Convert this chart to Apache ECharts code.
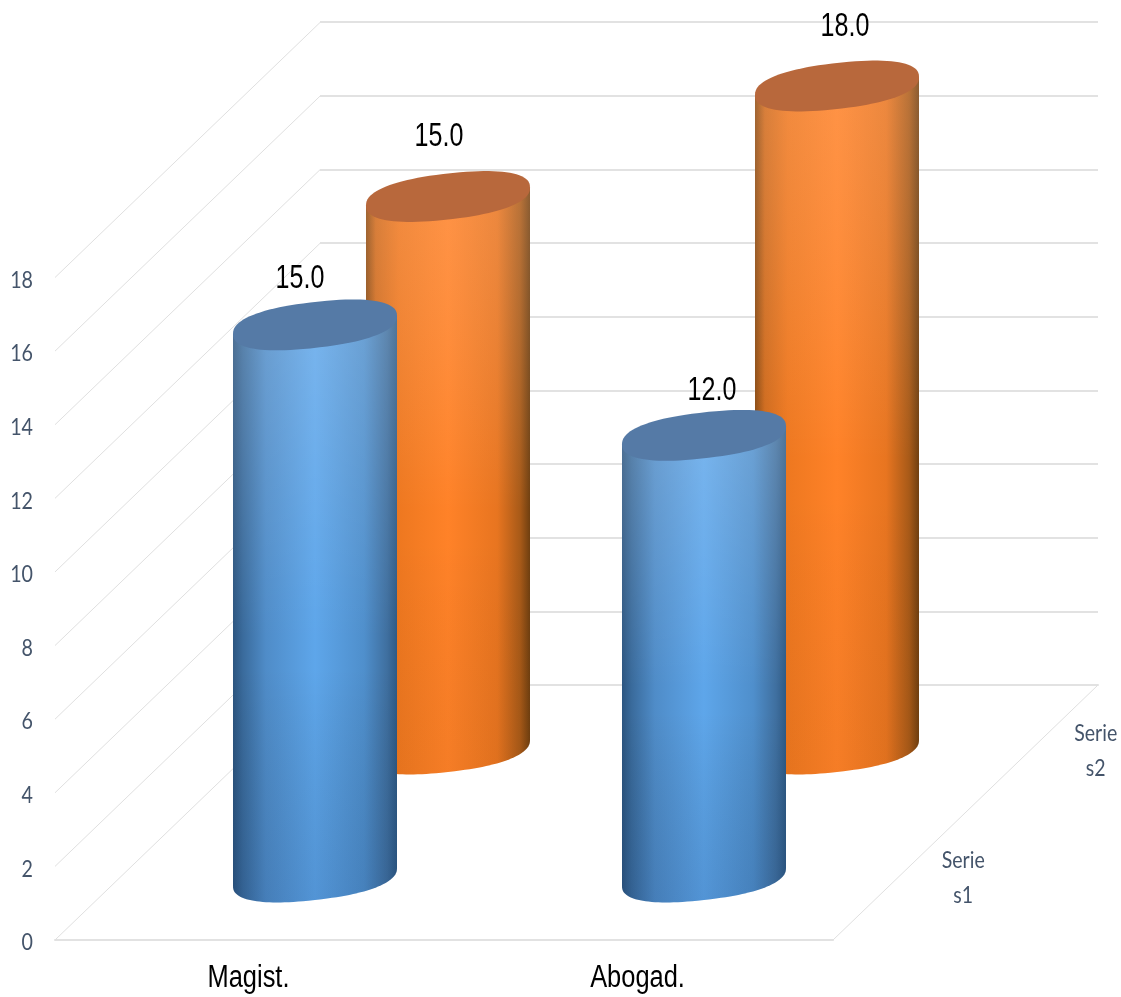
<!DOCTYPE html>
<html>
<head>
<meta charset="utf-8">
<script src="https://cdn.jsdelivr.net/npm/echarts@6/dist/echarts.min.js"></script>
<style>html,body{margin:0;padding:0;background:#fff}#c{width:1121px;height:997px}</style>
</head>
<body>
<div id="c"></div>
<script>
const categories = ['Magist.', 'Abogad.'];
const serieS1 = [15, 12];
const serieS2 = [15, 18];
const valueTicks = [0, 2, 4, 6, 8, 10, 12, 14, 16, 18];
const depthLabels = ['Serie\ns1', 'Serie\ns2'];

/* layout */
const WALL_DX = 265, WALL_DY = 255;
const SANS = '"Liberation Sans",Arial,sans-serif';
const SOFT = 'Lato,"Noto Sans",sans-serif';
const INK = '#44546a';
const stopAt = [0, 0.06, 0.2, 0.5, 0.8, 0.94, 1];
const blueStyle = {
  cap: '#557aa6',
  stops: ['#2c5580', '#3a6b9c', '#4f8cc8', '#5ea6ea', '#4f8fcc', '#3f6f9f', '#2e5a85'],
  lightTop: 'rgba(255,255,255,0.17)', darkBottom: 'rgba(10,40,90,0.14)'
};
const orangeStyle = {
  cap: '#b8683c',
  stops: ['#8a4a12', '#cf6a1c', '#ee7820', '#ff8228', '#e87520', '#a85a18', '#6f3f10'],
  lightTop: 'rgba(255,215,190,0.2)', darkBottom: 'rgba(90,40,0,0.06)'
};

function soft(v) { return Math.sign(v) * Math.pow(Math.abs(v), 0.85); }
function ellipsePoint(cx, cy, rx, t) {
  const c = soft(Math.cos(t)), s = soft(Math.sin(t));
  return [cx + rx * c, cy - rx * 0.11 * c - rx * 0.28 * s];
}
function squeezed(text, x, y, scaleX, style) {
  return { type: 'text', x, y, scaleX, style: Object.assign({
    text, x: 0, y: 0, verticalAlign: 'middle' }, style) };
}

function cylinder(look, dx, dy, labelShift, labelRise) {
  return function (params, api) {
    const i = api.value(0), v = api.value(1);
    const rx = api.size([1, 0])[0] * 0.2108;
    const base = api.coord([i, 0]), top = api.coord([i, v]);
    const cx = base[0] + dx, by = base[1] + dy, ty = top[1] + dy;
    const body = [ellipsePoint(cx, ty, rx, Math.PI), ellipsePoint(cx, ty, rx, 0)];
    for (let k = 0; k <= 60; k++) body.push(ellipsePoint(cx, by, rx, -Math.PI * k / 60));
    const cap = [];
    for (let k = 0; k < 90; k++) cap.push(ellipsePoint(cx, ty, rx, 2 * Math.PI * k / 90));
    return {
      type: 'group',
      children: [
        { type: 'polygon', shape: { points: body }, style: {
            fill: { type: 'linear', x: 0, y: 0, x2: 1, y2: 0,
              colorStops: look.stops.map((c, n) => ({ offset: stopAt[n], color: c })) } } },
        { type: 'polygon', shape: { points: body }, style: {
            fill: { type: 'linear', x: 0, y: 0, x2: 0, y2: 1, colorStops: [
              { offset: 0, color: look.lightTop },
              { offset: 0.55, color: 'rgba(255,255,255,0)' },
              { offset: 0.6, color: 'rgba(0,0,0,0)' },
              { offset: 1, color: look.darkBottom }] } } },
        { type: 'polygon', shape: { points: cap }, style: { fill: look.cap } },
        squeezed(v.toFixed(1), cx + labelShift[i], ty - labelRise[i], 0.76,
          { fill: '#000', fontFamily: SANS, fontSize: 33, align: 'center' })
      ]
    };
  };
}

const chart = echarts.init(document.getElementById('c'), null, { renderer: 'canvas' });
chart.setOption({
  animation: false,
  backgroundColor: '#fff',
  grid: [
    { left: 55, top: 277.5, width: 778, height: 662.5 },
    { left: 320, top: 22, width: 778, height: 663 }
  ],
  xAxis: [
    { gridIndex: 0, type: 'category', data: categories,
      axisTick: { show: false }, axisLabel: { show: false },
      axisLine: { lineStyle: { color: '#e2e2e2', width: 2 } } },
    { gridIndex: 1, type: 'category', data: categories,
      axisTick: { show: false }, axisLabel: { show: false },
      axisLine: { lineStyle: { color: '#e2e2e2', width: 2 } } }
  ],
  yAxis: [
    { gridIndex: 0, type: 'value', min: 0, max: 18, interval: 2,
      axisLine: { show: false }, axisTick: { show: false }, splitLine: { show: false },
      axisLabel: { show: false } },
    { gridIndex: 1, type: 'value', min: 0, max: 18, interval: 2,
      axisLine: { show: false }, axisTick: { show: false }, axisLabel: { show: false },
      splitLine: { lineStyle: { color: '#e2e2e2', width: 2 } } }
  ],
  series: [
    { name: 'left wall', type: 'custom', xAxisIndex: 0, yAxisIndex: 0, silent: true, z: 1,
      data: valueTicks.map(v => [0, v]),
      renderItem(params, api) {
        const v = api.value(1), y = api.coord([0, v])[1], x = params.coordSys.x;
        return { type: 'group', children: [
          { type: 'line', shape: { x1: x, y1: y, x2: x + WALL_DX, y2: y - WALL_DY },
            style: { stroke: '#e0e0e0', lineWidth: 1 } },
          squeezed(String(v), x - 22, y + 2.5, 0.82,
            { fill: INK, fontFamily: SOFT, fontSize: 24, align: 'right' })
        ] };
      } },
    { name: 'category labels', type: 'custom', xAxisIndex: 0, yAxisIndex: 0, silent: true, z: 1,
      data: categories.map((c, i) => [i, 0]),
      renderItem(params, api) {
        const p = api.coord([api.value(0), 0]);
        return squeezed(categories[params.dataIndex], p[0] - 1, p[1] + 38, 0.82,
          { fill: '#000', fontFamily: SANS, fontSize: 31, align: 'center' });
      } },
    { name: 'floor edge', type: 'custom', xAxisIndex: 0, yAxisIndex: 0, silent: true, z: 1,
      data: depthLabels.map((t, n) => [n, 0]),
      renderItem(params, api) {
        const n = params.dataIndex, cs = params.coordSys;
        const x = cs.x + cs.width, y = api.coord([0, 0])[1], f = n === 0 ? 0.25 : 0.75;
        const children = [squeezed(depthLabels[n], x + WALL_DX * f + 64, y - WALL_DY * f + 2, 0.85,
          { fill: INK, fontFamily: SOFT, fontSize: 23, lineHeight: 35, align: 'center' })];
        if (n === 0) children.unshift({ type: 'line',
          shape: { x1: x, y1: y, x2: x + WALL_DX, y2: y - WALL_DY },
          style: { stroke: '#e0e0e0', lineWidth: 1 } });
        return { type: 'group', children };
      } },
    { name: 'Serie s2', type: 'custom', xAxisIndex: 1, yAxisIndex: 1, z: 3,
      data: serieS2.map((v, i) => [i, v]), encode: { x: 0, y: 1 },
      renderItem: cylinder(orangeStyle, -66.5, 64, [-9, 8], [60, 59]) },
    { name: 'Serie s1', type: 'custom', xAxisIndex: 0, yAxisIndex: 0, z: 4,
      data: serieS1.map((v, i) => [i, v]), encode: { x: 0, y: 1 },
      renderItem: cylinder(blueStyle, 65.5, -63, [-15, 8], [46, 44]) }
  ]
});
</script>
</body>
</html>
